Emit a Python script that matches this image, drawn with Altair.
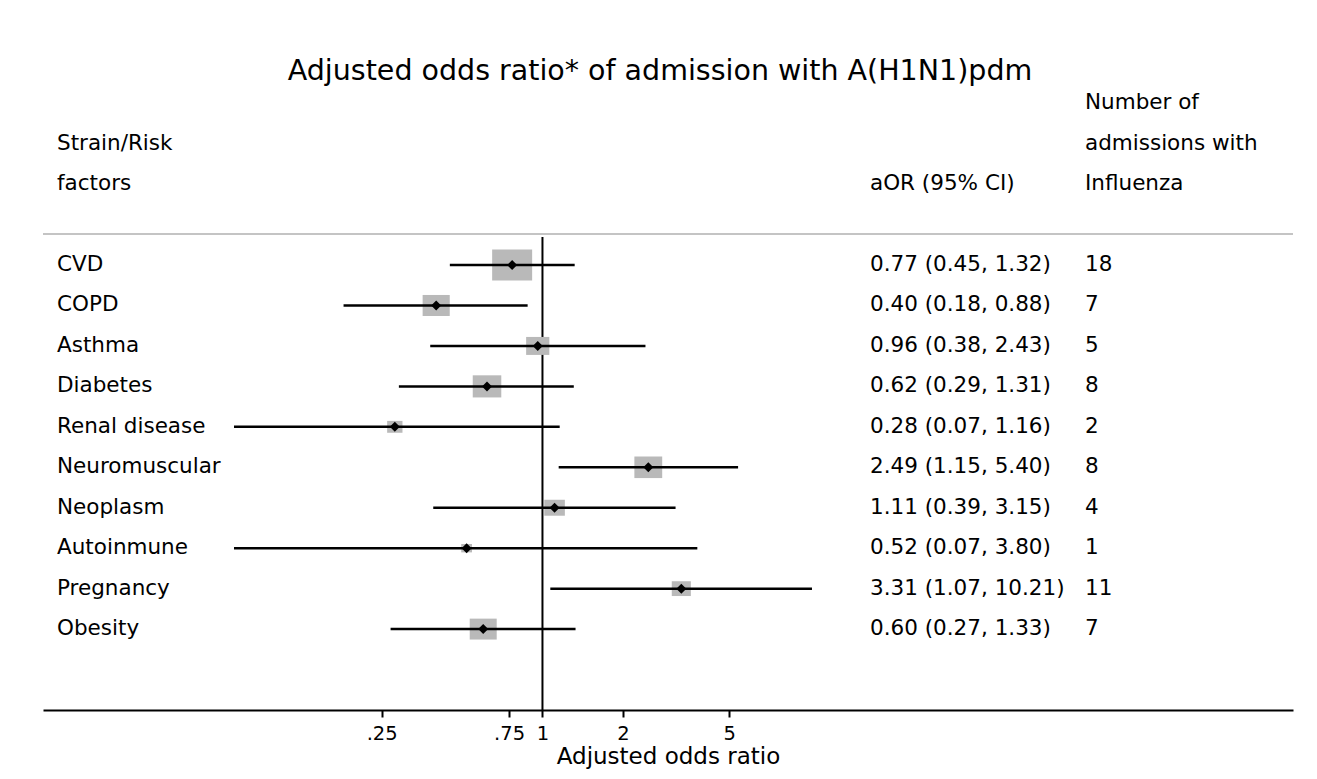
import altair as alt
import pandas as pd
import numpy as np

FACTORS = ["CVD", "COPD", "Asthma", "Diabetes", "Renal disease", "Neuromuscular",
           "Neoplasm", "Autoinmune", "Pregnancy", "Obesity"]
AOR = [0.77, 0.40, 0.96, 0.62, 0.28, 2.49, 1.11, 0.52, 3.31, 0.60]
LO = [0.45, 0.18, 0.38, 0.29, 0.07, 1.15, 0.39, 0.07, 1.07, 0.27]
HI = [1.32, 0.88, 2.43, 1.31, 1.16, 5.40, 3.15, 3.80, 10.21, 1.33]
N_ADM = [18, 7, 5, 8, 2, 8, 4, 1, 11, 7]

TICK_VALUES = [0.25, 0.75, 1, 2, 5]
TICK_LABELS = [".25", ".75", "1", "2", "5"]

HEAD_LEFT = ["Strain/Risk", "factors"]
HEAD_MID = ["aOR (95% CI)"]
HEAD_RIGHT = ["Number of", "admissions with", "Influenza"]
TITLE = "Adjusted odds ratio* of admission with A(H1N1)pdm"
X_TITLE = "Adjusted odds ratio"
NULL_VALUE = 1

FONT = "DejaVu Sans"
FS = 21.5

rows = list(range(1, len(FACTORS) + 1))
se = (np.log(HI) - np.log(LO)) / 3.92
weight = 1.0 / se ** 2
df = pd.DataFrame({
    "factor": FACTORS, "aor": AOR, "lo": LO, "hi": HI, "n": [str(v) for v in N_ADM],
    "row": rows, "weight": weight,
    "ci_text": [f"{a:.2f} ({l:.2f}, {h:.2f})" for a, l, h in zip(AOR, LO, HI)],
})

head_left = pd.DataFrame({"t": HEAD_LEFT, "row": [-2, -1]})
head_mid = pd.DataFrame({"t": HEAD_MID, "row": [-1]})
head_right = pd.DataFrame({"t": HEAD_RIGHT, "row": [-3, -2, -1]})

label_expr = " : ".join(
    f"datum.value == {v} ? '{l}'" for v, l in zip(TICK_VALUES, TICK_LABELS)
) + " : ''"

xscale = alt.Scale(type="log", domain=[0.01349, 645.6], nice=False)
yscale = alt.Scale(domain=[0.233, 12.0], reverse=True, nice=False, zero=False)

X = alt.X("aor:Q", scale=xscale,
          axis=alt.Axis(values=TICK_VALUES, labelExpr=label_expr, title=X_TITLE,
                        grid=False, labelOverlap=False, labelFlush=False,
                        domainColor="black", domainWidth=2, tickColor="black",
                        tickWidth=2, tickSize=7, labelPadding=7,
                        labelFont=FONT, labelFontSize=19.5, labelColor="black",
                        titleFont=FONT, titleFontSize=23, titleFontWeight="normal",
                        titleColor="black", titlePadding=3))
Y = alt.Y("row:Q", scale=yscale, axis=None)

base = alt.Chart(df)

boxes = base.mark_point(
    shape="M-1.29,-1L1.29,-1L1.29,1L-1.29,1Z", filled=True, opacity=1,
    color="#b9b9b9", strokeWidth=0
).encode(
    x=X, y=Y,
    size=alt.Size("weight:Q", scale=alt.Scale(domain=[0, float(weight.max())], range=[0, 961]),
                  legend=None),
)

ci = base.mark_rule(color="black", strokeWidth=2.5).encode(
    x=alt.X("lo:Q", scale=xscale), x2="hi:Q", y=Y)

diamonds = base.mark_point(shape="diamond", filled=True, color="black", size=100,
                           opacity=1).encode(x=X, y=Y)

null_line = alt.Chart(pd.DataFrame({"v": [NULL_VALUE]})).mark_rule(
    color="black", strokeWidth=2).encode(
    x=alt.X("v:Q", scale=xscale), y=alt.value(3), y2=alt.value(476))

top_line = alt.Chart(pd.DataFrame({"v": [0]})).mark_rule(
    color="#c4c4c4", strokeWidth=2).encode(
    x=alt.value(0), x2=alt.value(1250), y=alt.value(0))

def text_layer(data, field, xpx):
    return alt.Chart(data).mark_text(
        align="left", baseline="middle", font=FONT, fontSize=FS, color="black"
    ).encode(x=alt.value(xpx), y=Y, text=f"{field}:N")

labels = text_layer(df, "factor", 14)
ci_txt = text_layer(df, "ci_text", 827)
n_txt = text_layer(df, "n", 1042)
h_left = text_layer(head_left, "t", 14)
h_mid = text_layer(head_mid, "t", 827)
h_right = text_layer(head_right, "t", 1042)

title = alt.Chart(pd.DataFrame({"t": [TITLE]})).mark_text(
    align="center", baseline="middle", font=FONT, fontSize=28.5, color="black"
).encode(x=alt.value(617), y=alt.value(-163), text="t:N")

chart = alt.layer(
    top_line, null_line, boxes, ci, diamonds,
    labels, ci_txt, n_txt, h_left, h_mid, h_right, title
).properties(
    width=1250, height=476,
    autosize=alt.AutoSizeParams(type="none"),
    padding={"left": 35, "top": 226, "right": 16, "bottom": 60},
    background="white",
).configure(font=FONT).configure_view(stroke=None, strokeWidth=0)

chart.save("out.html", embed_options={"renderer": "svg", "actions": False})
